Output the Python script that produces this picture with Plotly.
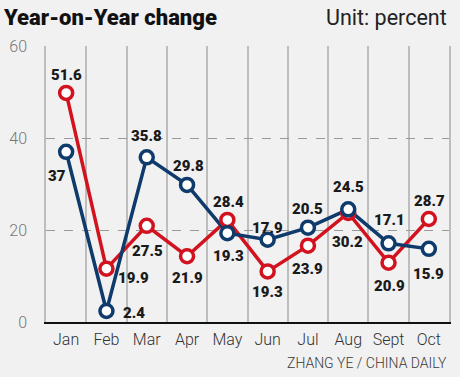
import plotly.graph_objects as go

months = ["Jan", "Feb", "Mar", "Apr", "May", "Jun", "Jul", "Aug", "Sept", "Oct"]
blue_values = [37, 2.4, 35.8, 29.8, 19.3, 17.9, 20.5, 24.5, 17.1, 15.9]
blue_labels = ["37", "2.4", "35.8", "29.8", "19.3", "17.9", "20.5", "24.5", "17.1", "15.9"]
# red markers as drawn in the picture (their printed labels differ)
red_values = [49.8, 11.6, 20.9, 14.3, 22.2, 11.0, 16.6, 23.7, 12.9, 22.4]
red_labels = ["51.6", "19.9", "27.5", "21.9", "28.4", "19.3", "23.9", "30.2", "20.9", "28.7"]
y_ticks = [0, 20, 40, 60]

BLUE = "#0e3a6c"
RED = "#d2131f"
BG = "#f1f1f1"

# label offsets in pixels (xshift, yshift) per point
blue_off = [(-9, -24), (28, -2), (0, 21), (1, 19), (1, -23), (0, 12), (0, 19), (0, 22), (1, 23), (0, -25)]
red_off = [(0, 18), (27, -9), (1, -25), (0, -22), (1, 18), (0, -21), (0, -23), (-1, -29), (1, -23), (1, 18)]

fig = go.Figure()
line_w = 3.5
for vals, col in [(red_values, RED), (blue_values, BLUE)]:
    fig.add_trace(go.Scatter(x=months, y=vals, mode="lines",
                             line=dict(color=col, width=line_w), hoverinfo="skip"))
for vals, col in [(red_values, RED), (blue_values, BLUE)]:
    fig.add_trace(go.Scatter(x=months, y=vals, mode="markers",
                             marker=dict(size=13, color="white", line=dict(color=col, width=3.5)),
                             hoverinfo="skip"))

label_font = dict(family="Roboto", size=15, color="#1a1a1a", weight=900)
for vals, labs, offs in [(blue_values, blue_labels, blue_off), (red_values, red_labels, red_off)]:
    for m, v, t, (dx, dy) in zip(months, vals, labs, offs):
        fig.add_annotation(x=m, y=v, text=t, showarrow=False, xshift=dx, yshift=dy,
                           font=label_font, xanchor="center", yanchor="middle")

fig.add_annotation(xref="paper", yref="paper", x=1.0, y=(322.5 - 17) / 277, text="Unit: percent",
                   showarrow=False, xanchor="right", yanchor="middle",
                   font=dict(family="Roboto", size=21.5, color="#222222"))
fig.add_annotation(xref="paper", yref="paper", x=1.0, y=(322.5 - 364) / 277, text="ZHANG YE / CHINA DAILY",
                   showarrow=False, xanchor="right", yanchor="middle",
                   font=dict(family="Roboto", size=14, color="#3a3a3a", weight=300))

fig.update_layout(
    width=460, height=377,
    margin=dict(l=39, r=9, t=46, b=55),
    paper_bgcolor=BG, plot_bgcolor=BG,
    showlegend=False,
    title=dict(text="Year-on-Year change", xref="container", yref="container",
               x=4 / 460, y=1 - 17.5 / 377, xanchor="left", yanchor="middle",
               font=dict(family="Roboto", size=22, color="#111111", weight=900)),
    xaxis=dict(type="category", categoryorder="array", categoryarray=months,
               range=[-0.5, 9.5], tickson="boundaries", showgrid=True,
               gridcolor="#bdbdbd", gridwidth=1.5, ticks="", showline=True,
               linecolor="#111111", linewidth=2,
               tickfont=dict(family="Roboto", size=16, color="#333333", weight=300),
               ticklabelstandoff=2, fixedrange=True),
    yaxis=dict(range=[0, 60], tickvals=y_ticks, showgrid=True, gridcolor="#9a9a9a",
               griddash="dash", gridwidth=1, zeroline=False, showline=True, mirror=True,
               linecolor="#bdbdbd", linewidth=1.5, ticks="",
               tickfont=dict(family="Roboto", size=16, color="#777777", weight=300),
               ticklabelstandoff=14, fixedrange=True),
)

fig.write_html("out.html", config={"displayModeBar": False},
               post_script="document.body.style.margin='0';document.body.style.overflow='hidden';")
